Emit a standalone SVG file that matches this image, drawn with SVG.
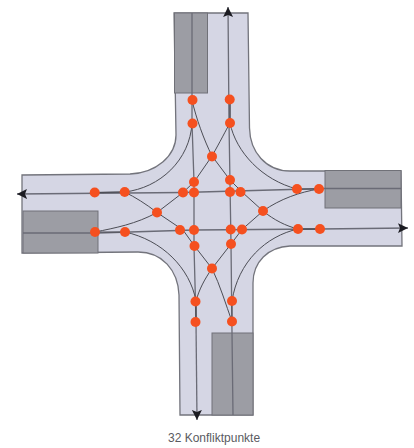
<svg xmlns="http://www.w3.org/2000/svg" width="414" height="448" viewBox="0 0 414 448">
<style>
.road{fill:#d5d6e4;stroke:#73747c;stroke-width:1.3}
.stop{fill:#9c9da4;stroke:#707178;stroke-width:1}
.c{fill:none;stroke:#4c4d55;stroke-width:1}
.s{fill:none;stroke:#6a6b76;stroke-width:1.3}
.p{fill:#f5501f}
.cap{font:12px "Liberation Sans",Arial,sans-serif;fill:#5a5b61}
</style>
<defs>
<marker id="a" markerWidth="12" markerHeight="12" refX="10" refY="5" orient="auto" markerUnits="userSpaceOnUse"><path d="M0 0L10 5L0 10L2 5Z" fill="#1c1c22"/></marker>
</defs>
<g id="road">
<path class="road" d="M174 13H248L249.500 128C250 152 266 171 290 171H401L402 246H290C268 247 253 262 253 283L253 415H180L179 295C178 270 162 252 138 252L22 253V175L130 174C156 173 176 156 176 135Z"/>
<rect class="stop" x="174.500" y="13" width="33" height="80"/>
<rect class="stop" x="325" y="170.500" width="76" height="37.500"/>
<rect class="stop" x="23" y="211" width="75" height="42"/>
<rect class="stop" x="212" y="333" width="41" height="82"/>
</g>
<g id="connectors">
<path class="s" d="M192 13V123L194 182L194 246L196 322"/>
<path class="s" marker-end="url(#a)" d="M196 322L197 420"/>
<path class="s" marker-end="url(#a)" d="M233 415L232 333L231 244L229 123L228 7"/>
<path class="s" marker-end="url(#a)" d="M401 188.500H325L183 192.500L17 194"/>
<path class="s" marker-end="url(#a)" d="M23 233H98L194 230L320 229L408 228"/>
<path class="c" d="M192 100C196 118 204 140 212 156L230 180L242 192L263 211C274 220 286 226 298 229L320 229"/>
<path class="c" d="M192 123C190 160 160 188 124.500 192L94 192.500"/>
<path class="c" d="M95 232L125 232C162 240 190 268 196 301L196 322"/>
<path class="c" d="M94 192.500L124.500 192C135 197 146 204 157 212.500L183 230L194.500 246L212 268.500C204 280 199 290 196 301L196 322"/>
<path class="c" d="M95 232C115 228 136 224 157 212.500L183 192.500L194 182L212 156C220 142 226 130 230 123L230 99"/>
<path class="c" d="M319 189L297 189C262 180 236 152 230 123L230 99"/>
<path class="c" d="M319 189C300 192 280 199 263 211L242 229.500L231 244L212 268.500"/>
<path class="c" d="M232 321.500L232 301C238 262 266 236 298 229L320 229"/>
<path class="c" d="M232 321.500C226 305 220 285 212 268.500"/>
</g>
<g id="conflict-points" class="p">
<circle id="p1" cx="192.500" cy="100" r="5"/><circle id="p2" cx="192.500" cy="123.500" r="5"/>
<circle id="p3" cx="229.700" cy="99.500" r="5"/><circle id="p4" cx="230" cy="123" r="5"/>
<circle id="p5" cx="212" cy="156.500" r="5"/>
<circle id="p6" cx="194" cy="182" r="5"/><circle id="p7" cx="230" cy="180" r="5"/>
<circle id="p8" cx="94.700" cy="192.500" r="5"/><circle id="p9" cx="124.700" cy="192" r="5"/>
<circle id="p10" cx="183" cy="192.500" r="5"/><circle id="p11" cx="194" cy="192.500" r="5"/>
<circle id="p12" cx="230" cy="192" r="5"/><circle id="p13" cx="240.500" cy="192" r="5"/>
<circle id="p14" cx="297" cy="189" r="5"/><circle id="p15" cx="319" cy="189" r="5"/>
<circle id="p16" cx="157" cy="212.500" r="5"/><circle id="p17" cx="263" cy="211" r="5"/>
<circle id="p18" cx="95" cy="232" r="5"/><circle id="p19" cx="125" cy="232" r="5"/>
<circle id="p20" cx="180" cy="230" r="5"/><circle id="p21" cx="194" cy="230" r="5"/>
<circle id="p22" cx="230.700" cy="229.500" r="5"/><circle id="p23" cx="242" cy="229.500" r="5"/>
<circle id="p24" cx="298" cy="229" r="5"/><circle id="p25" cx="320" cy="229" r="5"/>
<circle id="p26" cx="194.500" cy="246" r="5"/><circle id="p27" cx="231" cy="244" r="5"/>
<circle id="p28" cx="212" cy="268.500" r="5"/>
<circle id="p29" cx="195.500" cy="301.500" r="5"/><circle id="p30" cx="232" cy="301" r="5"/>
<circle id="p31" cx="195.500" cy="322" r="5"/><circle id="p32" cx="232" cy="321.500" r="5"/>
</g>
<text class="cap" x="168" y="442">32 Konfliktpunkte</text>
</svg>
